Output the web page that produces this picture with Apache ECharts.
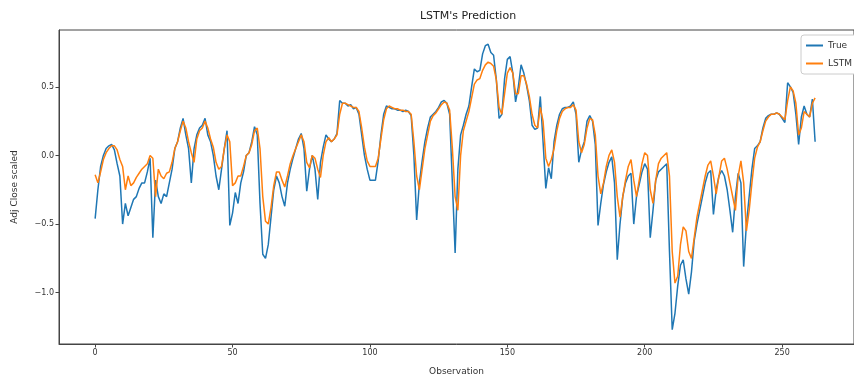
<!DOCTYPE html>
<html><head><meta charset="utf-8">
<script src="https://cdn.jsdelivr.net/npm/echarts@6/dist/echarts.min.js"></script>
<style>html,body{margin:0;padding:0;background:#fff}#c{width:854px;height:381px}</style>
</head><body><div id="c"></div>
<script>
const chartTitle = "LSTM's Prediction";
const xTicks = [0, 50, 100, 150, 200, 250];
const yTicks = [-1.0, -0.5, 0.0, 0.5];
const trueValues = [
-0.46,-0.25,-0.08,0.0,0.05,0.07,0.08,0.04,-0.06,-0.15,
-0.5,-0.35,-0.44,-0.38,-0.32,-0.3,-0.24,-0.2,-0.2,-0.12,
-0.02,-0.6,-0.18,-0.3,-0.35,-0.28,-0.3,-0.2,-0.1,0.05,
0.1,0.2,0.27,0.15,0.05,-0.2,0.05,0.15,0.2,0.22,
0.27,0.15,0.1,0.0,-0.15,-0.25,-0.1,0.05,0.18,-0.51,
-0.42,-0.27,-0.35,-0.2,-0.12,0.0,0.02,0.1,0.21,0.15,
-0.35,-0.72,-0.75,-0.65,-0.45,-0.25,-0.15,-0.2,-0.3,-0.37,
-0.2,-0.1,-0.02,0.05,0.12,0.16,0.05,-0.26,-0.1,0.0,
-0.1,-0.32,-0.05,0.06,0.15,0.12,0.1,0.12,0.16,0.4,
0.38,0.38,0.36,0.37,0.34,0.35,0.3,0.15,0.0,-0.1,
-0.18,-0.18,-0.18,-0.04,0.15,0.3,0.36,0.35,0.34,0.34,
0.33,0.33,0.32,0.33,0.32,0.29,0.0,-0.47,-0.2,-0.04,
0.1,0.2,0.28,0.3,0.32,0.35,0.39,0.4,0.38,0.3,
-0.2,-0.71,-0.1,0.15,0.22,0.3,0.36,0.5,0.63,0.61,
0.62,0.74,0.8,0.81,0.75,0.73,0.55,0.27,0.3,0.56,
0.7,0.72,0.6,0.39,0.5,0.66,0.6,0.51,0.4,0.22,
0.19,0.2,0.43,0.1,-0.24,-0.09,-0.17,0.1,0.22,0.3,
0.34,0.35,0.35,0.36,0.39,0.3,-0.05,0.04,0.1,0.25,
0.29,0.25,0.08,-0.51,-0.35,-0.21,-0.12,-0.05,-0.01,-0.2,
-0.76,-0.5,-0.3,-0.2,-0.15,-0.13,-0.5,-0.3,-0.21,-0.12,
-0.06,-0.1,-0.6,-0.4,-0.18,-0.12,-0.1,-0.08,-0.06,-0.7,
-1.27,-1.15,-0.95,-0.8,-0.76,-0.9,-1.01,-0.85,-0.62,-0.5,
-0.4,-0.3,-0.2,-0.13,-0.11,-0.43,-0.25,-0.15,-0.11,-0.15,
-0.25,-0.4,-0.56,-0.3,-0.13,-0.2,-0.81,-0.5,-0.3,-0.1,
0.05,0.07,0.1,0.2,0.27,0.29,0.3,0.3,0.31,0.3,
0.27,0.24,0.53,0.5,0.46,0.3,0.08,0.28,0.36,0.3,
0.28,0.41,0.1
];
const lstmValues = [
-0.14,-0.2,-0.12,-0.03,0.02,0.05,0.07,0.07,0.04,-0.03,
-0.08,-0.25,-0.15,-0.22,-0.2,-0.16,-0.13,-0.1,-0.08,-0.06,
0.0,-0.02,-0.3,-0.1,-0.15,-0.17,-0.13,-0.12,-0.05,0.05,
0.1,0.18,0.25,0.2,0.1,0.02,-0.05,0.12,0.18,0.2,
0.25,0.2,0.12,0.06,-0.05,-0.1,-0.08,0.05,0.15,0.1,
-0.22,-0.2,-0.15,-0.15,-0.08,0.0,0.02,0.08,0.18,0.2,
0.05,-0.3,-0.48,-0.5,-0.38,-0.22,-0.12,-0.12,-0.18,-0.23,
-0.15,-0.06,0.0,0.05,0.1,0.15,0.1,-0.05,-0.09,0.0,
-0.02,-0.1,-0.16,0.0,0.1,0.13,0.1,0.12,0.15,0.3,
0.38,0.38,0.37,0.36,0.35,0.35,0.32,0.2,0.06,-0.04,
-0.08,-0.08,-0.08,-0.02,0.12,0.26,0.34,0.36,0.35,0.34,
0.34,0.33,0.33,0.32,0.32,0.3,0.1,-0.15,-0.25,-0.1,
0.05,0.15,0.25,0.29,0.31,0.34,0.37,0.39,0.38,0.33,
0.05,-0.3,-0.4,0.0,0.18,0.25,0.32,0.42,0.52,0.55,
0.56,0.62,0.66,0.68,0.67,0.65,0.55,0.35,0.3,0.45,
0.6,0.64,0.6,0.45,0.45,0.58,0.58,0.52,0.43,0.3,
0.22,0.2,0.35,0.25,-0.02,-0.08,-0.03,0.05,0.18,0.27,
0.32,0.34,0.35,0.35,0.37,0.33,0.1,0.02,0.08,0.2,
0.27,0.26,0.15,-0.15,-0.28,-0.2,-0.08,0.0,0.04,-0.05,
-0.3,-0.45,-0.3,-0.18,-0.08,-0.03,-0.18,-0.3,-0.18,-0.06,
0.02,0.0,-0.25,-0.35,-0.18,-0.06,-0.02,0.0,0.02,-0.15,
-0.7,-0.93,-0.88,-0.65,-0.52,-0.55,-0.7,-0.75,-0.6,-0.45,
-0.35,-0.25,-0.15,-0.07,-0.04,-0.15,-0.28,-0.15,-0.04,-0.02,
-0.1,-0.2,-0.3,-0.4,-0.15,-0.04,-0.2,-0.55,-0.4,-0.2,
-0.02,0.06,0.1,0.18,0.25,0.28,0.3,0.3,0.31,0.3,
0.28,0.26,0.4,0.5,0.47,0.38,0.15,0.2,0.32,0.3,
0.28,0.38,0.42
];
const seriesNames = ['True', 'LSTM'];

const toPairs = arr => arr.map((v, i) => [i, v]);
const fmt = v => { const s = v.toFixed(1); return s.replace('-', '\u2212'); };
const font = 'DejaVu Sans';
const chart = echarts.init(document.getElementById('c'), null, {renderer: 'canvas'});
chart.setOption({
  animation: false,
  backgroundColor: '#fff',
  title: {text: chartTitle, left: 463, textAlign: 'center', top: 6,
    textStyle: {fontFamily: font, fontSize: 11, fontWeight: 'normal', color: '#222'}},
  legend: {
    orient: 'vertical', left: 801, top: 35, itemWidth: 17, itemHeight: 2, itemGap: 9,
    icon: 'rect', backgroundColor: '#fff', borderColor: '#ccc', borderWidth: 1, borderRadius: 3,
    padding: [6, 20, 6, 5],
    textStyle: {fontFamily: font, fontSize: 9, color: '#333'},
    data: seriesNames
  },
  grid: {left: 59, top: 30, width: 809, height: 320, show: true, borderColor: '#444', borderWidth: 1, backgroundColor: 'transparent'},
  xAxis: {
    type: 'value', min: -13.15, max: 276.15,
    name: 'Observation', nameLocation: 'middle', nameGap: 23,
    nameTextStyle: {fontFamily: font, fontSize: 9, color: '#333'},
    axisLine: {show: true, onZero: false, lineStyle: {color: '#444'}},
    axisTick: {show: true, length: 3.5, customValues: xTicks, lineStyle: {color: '#444'}},
    axisLabel: {customValues: xTicks, fontFamily: font, fontSize: 8, color: '#333', margin: 5, formatter: v => String(v)},
    splitLine: {show: false}
  },
  yAxis: {
    type: 'value', min: -1.374, max: 0.914,
    name: 'Adj Close scaled', nameLocation: 'middle', nameGap: 40, nameRotate: 90,
    nameTextStyle: {fontFamily: font, fontSize: 9, color: '#333'},
    axisLine: {show: true, onZero: false, lineStyle: {color: '#444'}},
    axisTick: {show: true, length: 3.5, customValues: yTicks, lineStyle: {color: '#444'}},
    axisLabel: {customValues: yTicks, fontFamily: font, fontSize: 8, color: '#333', margin: 5, formatter: fmt},
    splitLine: {show: false}
  },
  series: [
    {name: seriesNames[0], type: 'line', data: toPairs(trueValues), showSymbol: false, symbol: 'none',
      lineStyle: {color: '#1f77b4', width: 1.5}, itemStyle: {color: '#1f77b4'}},
    {name: seriesNames[1], type: 'line', data: toPairs(lstmValues), showSymbol: false, symbol: 'none',
      lineStyle: {color: '#ff7f0e', width: 1.5}, itemStyle: {color: '#ff7f0e'}}
  ]
});
</script></body></html>
